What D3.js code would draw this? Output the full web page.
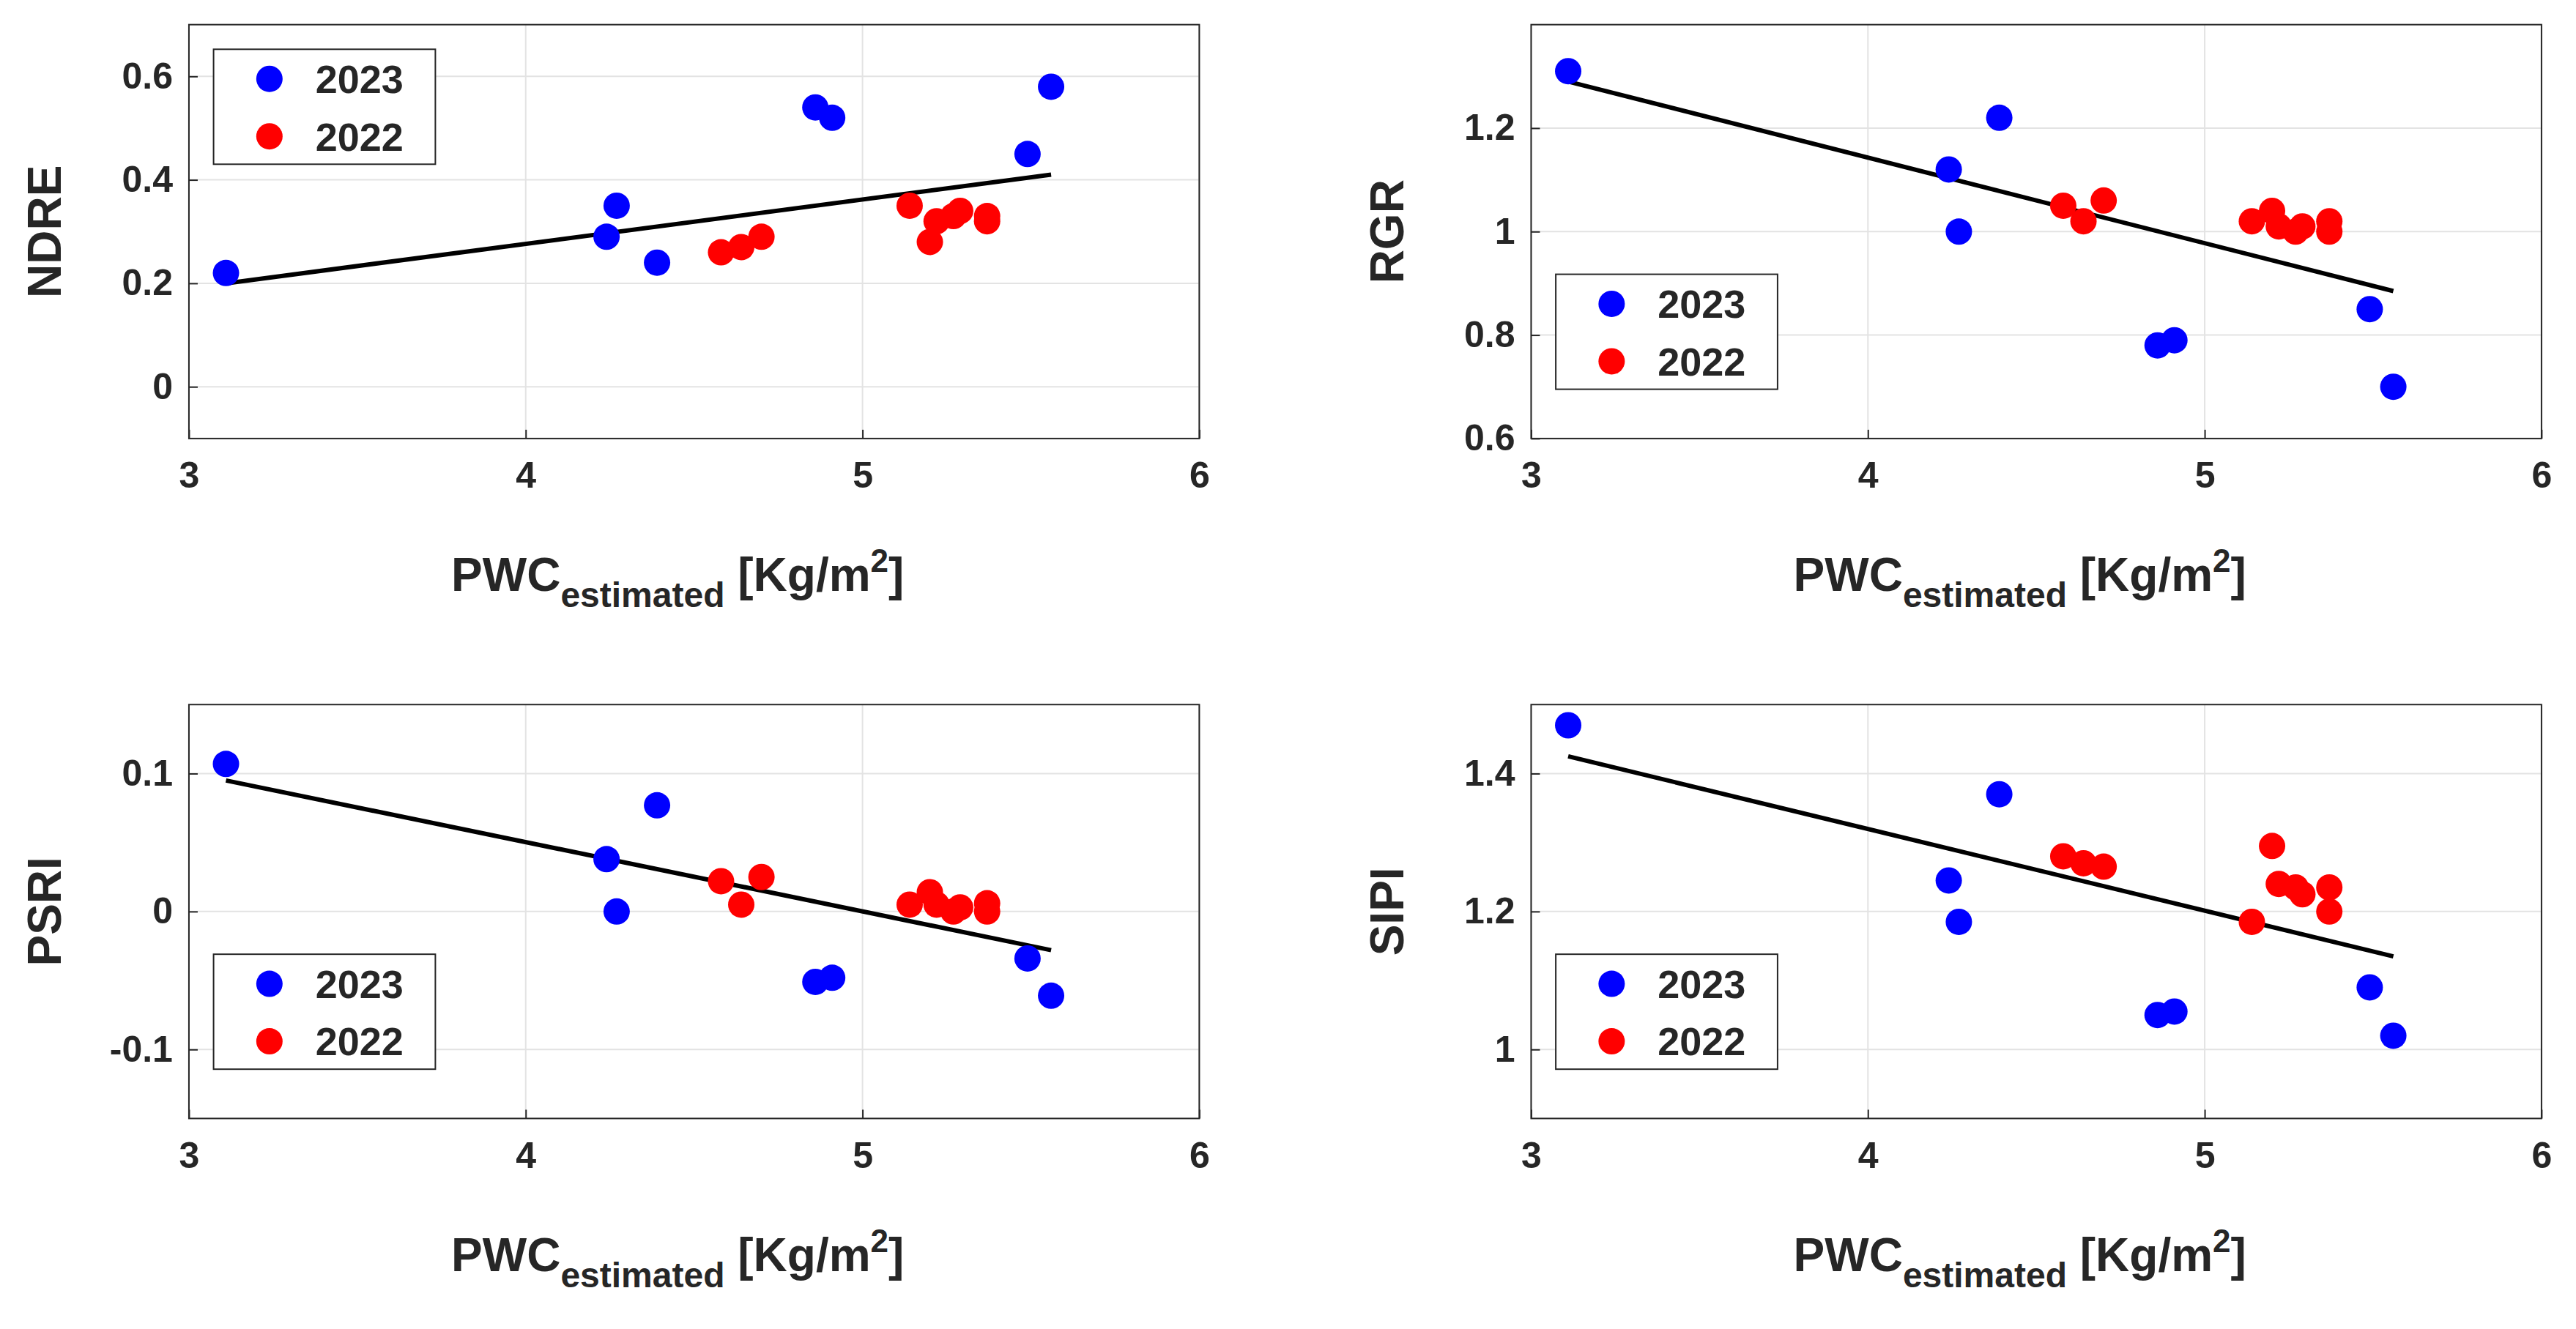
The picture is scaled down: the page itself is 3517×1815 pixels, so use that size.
<!DOCTYPE html>
<html><head><meta charset="utf-8">
<script src="https://cdn.jsdelivr.net/npm/d3@7"></script>
<style>
body{margin:0;background:#fff;}
text{font-family:"Liberation Sans",Arial,sans-serif;font-weight:bold;fill:#262626;}
</style></head>
<body><svg width="3517" height="1815"></svg>
<script>
var S = 3517 / 1568;

// x values (PWC estimated) shared by all panels
var x2023 = [3.11, 4.24, 4.27, 4.39, 4.86, 4.91, 5.49, 5.56];
var x2022 = [4.58, 4.64, 4.70, 5.14, 5.20, 5.22, 5.27, 5.29, 5.37, 5.37];
var fitX = [3.11, 5.56];

var ndre2023 = [0.22, 0.29, 0.35, 0.24, 0.54, 0.52, 0.45, 0.58];
var ndre2022 = [0.26, 0.27, 0.29, 0.35, 0.28, 0.32, 0.33, 0.34, 0.32, 0.33];
var ndreFit = [0.20, 0.41];

var rgr2023 = [1.31, 1.12, 1.00, 1.22, 0.78, 0.79, 0.85, 0.70];
var rgr2022 = [1.05, 1.02, 1.06, 1.02, 1.04, 1.01, 1.00, 1.01, 1.02, 1.00];
var rgrFit = [1.29, 0.885];

var psri2023 = [0.107, 0.038, 0.0, 0.077, -0.051, -0.048, -0.034, -0.061];
var psri2022 = [0.022, 0.005, 0.025, 0.005, 0.014, 0.005, 0.0, 0.003, 0.006, 0.0];
var psriFit = [0.095, -0.028];

var sipi2023 = [1.47, 1.245, 1.185, 1.37, 1.05, 1.055, 1.09, 1.02];
var sipi2022 = [1.28, 1.27, 1.265, 1.185, 1.295, 1.24, 1.235, 1.225, 1.235, 1.20];
var sipiFit = [1.425, 1.135];

var panels = [
  {name: "NDRE", y23: ndre2023, y22: ndre2022, fit: ndreFit, dom: [-0.1, 0.7], ticks: [0, 0.2, 0.4, 0.6], labels: ["0", "0.2", "0.4", "0.6"], left: 115, top: 15, legend: "top"},
  {name: "RGR", y23: rgr2023, y22: rgr2022, fit: rgrFit, dom: [0.6, 1.4], ticks: [0.6, 0.8, 1, 1.2], labels: ["0.6", "0.8", "1", "1.2"], left: 932, top: 15, legend: "bottom"},
  {name: "PSRI", y23: psri2023, y22: psri2022, fit: psriFit, dom: [-0.15, 0.15], ticks: [-0.1, 0, 0.1], labels: ["-0.1", "0", "0.1"], left: 115, top: 429, legend: "bottom"},
  {name: "SIPI", y23: sipi2023, y22: sipi2022, fit: sipiFit, dom: [0.9, 1.5], ticks: [1, 1.2, 1.4], labels: ["1", "1.2", "1.4"], left: 932, top: 429, legend: "bottom"}
];
var xTicks = [3, 4, 5, 6];

var svg = d3.select("svg");
var w = 615 * S, h = 252 * S;

panels.forEach(function (p) {
  var g = svg.append("g").attr("transform", "translate(" + p.left * S + "," + p.top * S + ")");
  var x = d3.scaleLinear().domain([3, 6]).range([0, w]);
  var y = d3.scaleLinear().domain(p.dom).range([h, 0]);

  // grid
  g.append("g").selectAll("line.gx").data(xTicks).join("line")
    .attr("x1", x).attr("x2", x).attr("y1", 0).attr("y2", h)
    .attr("stroke", "#e3e3e3").attr("stroke-width", 2);
  g.append("g").selectAll("line.gy").data(p.ticks).join("line")
    .attr("y1", y).attr("y2", y).attr("x1", 0).attr("x2", w)
    .attr("stroke", "#e3e3e3").attr("stroke-width", 2);

  // axes
  var xa = g.append("g").attr("transform", "translate(0," + h + ")")
    .call(d3.axisBottom(x).tickValues(xTicks).tickFormat(d3.format("d")).tickSize(-12).tickPadding(32));
  var ya = g.append("g")
    .call(d3.axisLeft(y).tickValues(p.ticks).tickFormat(function (d, i) { return p.labels[i]; }).tickSize(-12).tickPadding(22));
  [xa, ya].forEach(function (a) {
    a.select(".domain").remove();
    a.selectAll("line").attr("stroke", "#262626").attr("stroke-width", 2);
    a.selectAll("text").style("font-size", "50px").style("font-family", "Liberation Sans").style("font-weight", "bold").attr("fill", "#262626");
  });
  g.append("rect").attr("width", w).attr("height", h).attr("fill", "none")
    .attr("stroke", "#262626").attr("stroke-width", 2);

  // fit line
  g.append("line").attr("x1", x(fitX[0])).attr("x2", x(fitX[1]))
    .attr("y1", y(p.fit[0])).attr("y2", y(p.fit[1]))
    .attr("stroke", "#000").attr("stroke-width", 6);

  // points
  g.append("g").selectAll("circle").data(x2022.map(function (v, i) { return [v, p.y22[i]]; })).join("circle")
    .attr("cx", function (d) { return x(d[0]); }).attr("cy", function (d) { return y(d[1]); })
    .attr("r", 18).attr("fill", "#ff0000");
  g.append("g").selectAll("circle").data(x2023.map(function (v, i) { return [v, p.y23[i]]; })).join("circle")
    .attr("cx", function (d) { return x(d[0]); }).attr("cy", function (d) { return y(d[1]); })
    .attr("r", 18).attr("fill", "#0000ff");

  // legend
  var ly = p.legend == "top" ? 15 * S : h - 100 * S;
  var lg = g.append("g").attr("transform", "translate(" + 15 * S + "," + ly + ")");
  lg.append("rect").attr("width", 135 * S).attr("height", 70 * S).attr("fill", "#fff")
    .attr("stroke", "#262626").attr("stroke-width", 2);
  [["2023", "#0000ff"], ["2022", "#ff0000"]].forEach(function (e, i) {
    lg.append("circle").attr("cx", 34 * S).attr("cy", (18 + i * 35) * S).attr("r", 18).attr("fill", e[1]);
    lg.append("text").attr("x", 62 * S).attr("y", (18 + i * 35) * S).attr("dy", "0.36em")
      .style("font-size", "54px").text(e[0]);
  });

  // y label
  g.append("text").attr("transform", "translate(" + (-78 * S) + "," + h / 2 + ") rotate(-90)")
    .attr("text-anchor", "middle").style("font-size", "64px").text(p.name);

  // x label
  var xl = g.append("text").attr("x", w / 2 - 10 * S).attr("y", h + 93 * S)
    .attr("text-anchor", "middle").style("font-size", "64px");
  xl.append("tspan").text("PWC");
  xl.append("tspan").attr("dy", 22).style("font-size", "48px").text("estimated");
  xl.append("tspan").attr("dy", -22).text(" [Kg/m");
  xl.append("tspan").attr("dy", -26).style("font-size", "44px").text("2");
  xl.append("tspan").attr("dy", 26).text("]");
});
</script></body></html>
